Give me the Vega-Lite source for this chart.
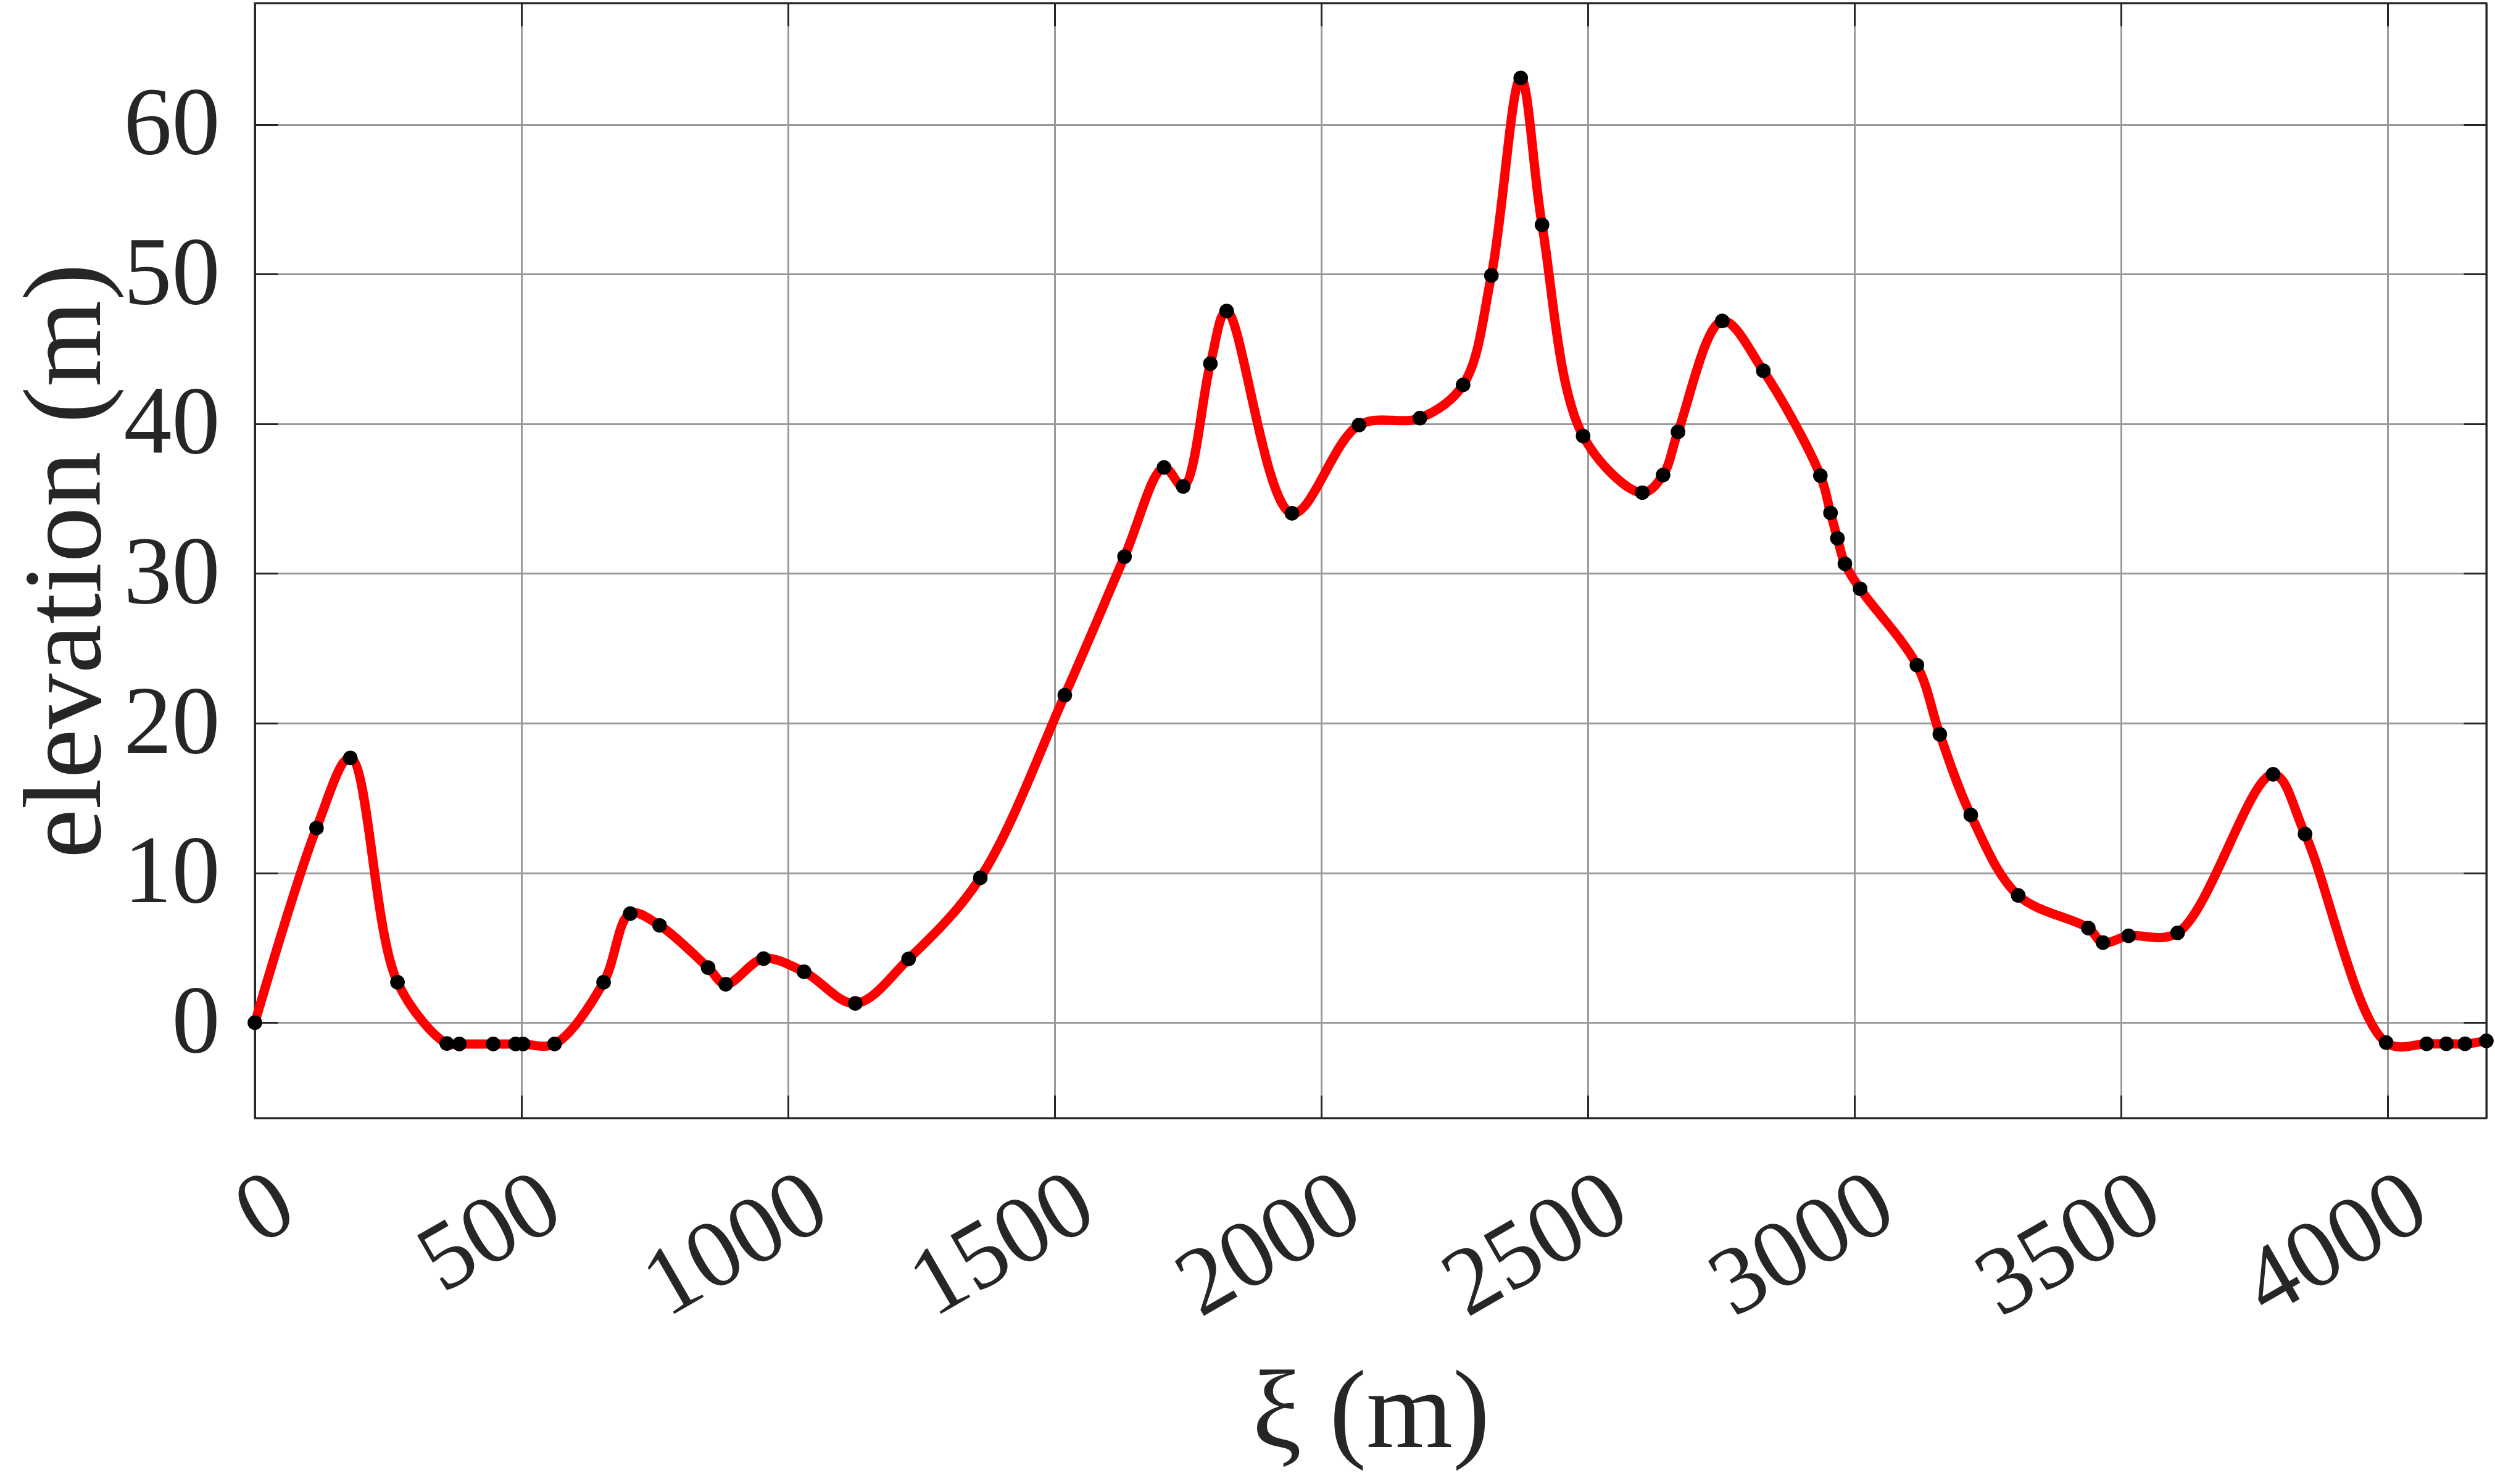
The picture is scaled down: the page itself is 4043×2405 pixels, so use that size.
{
  "$schema": "https://vega.github.io/schema/vega-lite/v6.json",
  "width": 3616,
  "height": 1807,
  "autosize": {"type": "none"},
  "padding": {"left": 413, "top": 5, "right": 14, "bottom": 593},
  "background": "white",
  "config": {
    "view": {"stroke": "#262626", "strokeWidth": 3},
    "font": "Liberation Serif"
  },
  "data": {
    "values": [
      {"xi": 0, "elev": 0},
      {"xi": 115.6, "elev": 13.0},
      {"xi": 179, "elev": 17.68},
      {"xi": 267.5, "elev": 2.7},
      {"xi": 360, "elev": -1.39},
      {"xi": 383.5, "elev": -1.42},
      {"xi": 447, "elev": -1.42},
      {"xi": 489, "elev": -1.42},
      {"xi": 503, "elev": -1.42},
      {"xi": 562, "elev": -1.42},
      {"xi": 654, "elev": 2.7},
      {"xi": 704, "elev": 7.29},
      {"xi": 759, "elev": 6.5},
      {"xi": 850, "elev": 3.68},
      {"xi": 883, "elev": 2.57},
      {"xi": 954, "elev": 4.28},
      {"xi": 1030, "elev": 3.4},
      {"xi": 1126, "elev": 1.29},
      {"xi": 1226, "elev": 4.26},
      {"xi": 1360.5, "elev": 9.68},
      {"xi": 1519, "elev": 21.88},
      {"xi": 1631, "elev": 31.13},
      {"xi": 1705, "elev": 37.08},
      {"xi": 1741, "elev": 35.82},
      {"xi": 1792, "elev": 44.02},
      {"xi": 1822.5, "elev": 47.53},
      {"xi": 1945, "elev": 34.02},
      {"xi": 2070.7, "elev": 39.92},
      {"xi": 2185, "elev": 40.38},
      {"xi": 2266, "elev": 42.6},
      {"xi": 2319, "elev": 49.91},
      {"xi": 2374, "elev": 63.1},
      {"xi": 2414, "elev": 53.29},
      {"xi": 2491, "elev": 39.18},
      {"xi": 2602, "elev": 35.4},
      {"xi": 2641, "elev": 36.58},
      {"xi": 2669, "elev": 39.46},
      {"xi": 2752, "elev": 46.87},
      {"xi": 2829, "elev": 43.54},
      {"xi": 2936, "elev": 36.54},
      {"xi": 2955, "elev": 34.05},
      {"xi": 2968, "elev": 32.35},
      {"xi": 2982, "elev": 30.65},
      {"xi": 3010.5, "elev": 28.98},
      {"xi": 3117, "elev": 23.88},
      {"xi": 3160, "elev": 19.26},
      {"xi": 3218, "elev": 13.88},
      {"xi": 3307, "elev": 8.5},
      {"xi": 3438.5, "elev": 6.32},
      {"xi": 3466, "elev": 5.35},
      {"xi": 3514, "elev": 5.8},
      {"xi": 3606, "elev": 6.0},
      {"xi": 3785, "elev": 16.59},
      {"xi": 3845, "elev": 12.6},
      {"xi": 3997, "elev": -1.33},
      {"xi": 4073, "elev": -1.41},
      {"xi": 4110, "elev": -1.41},
      {"xi": 4145, "elev": -1.41},
      {"xi": 4185, "elev": -1.21}
    ]
  },
  "layer": [
    {
      "mark": {"type": "line", "interpolate": "catmull-rom", "color": "#ff0000", "strokeWidth": 15},
      "encoding": {
        "x": {
          "field": "xi", "type": "quantitative",
          "scale": {"domain": [0, 4185], "nice": false, "zero": false},
          "axis": {
            "orient": "bottom",
            "values": [0, 500, 1000, 1500, 2000, 2500, 3000, 3500, 4000],
            "format": "d",
            "grid": true, "gridColor": "#9a9a9a", "gridWidth": 3,
            "tickSize": -37, "tickColor": "#262626", "tickWidth": 3,
            "domainColor": "#262626", "domainWidth": 3,
            "labelFont": "Liberation Serif", "labelFontSize": 156, "labelColor": "#262626",
            "labelAngle": -30, "labelAlign": "right", "labelBaseline": "top",
            "labelOffset": 12, "labelPadding": 98, "labelOverlap": false, "labelFlush": false, "labelBound": false,
            "labelLimit": 0,
            "title": "ξ (m)", "titleFont": "Liberation Serif", "titleFontSize": 180, "titleFontWeight": "normal",
            "titleColor": "#262626", "titlePadding": 190
          }
        },
        "y": {
          "field": "elev", "type": "quantitative",
          "scale": {"domain": [-6.37, 68.1], "nice": false, "zero": false},
          "axis": {
            "orient": "left",
            "values": [0, 10, 20, 30, 40, 50, 60],
            "format": "d",
            "grid": true, "gridColor": "#9a9a9a", "gridWidth": 3,
            "tickSize": -37, "tickColor": "#262626", "tickWidth": 3,
            "domainColor": "#262626", "domainWidth": 3,
            "labelFont": "Liberation Serif", "labelFontSize": 156, "labelColor": "#262626",
            "labelPadding": 94, "labelOverlap": false, "labelBound": false, "labelLimit": 0,
            "title": "elevation (m)", "titleFont": "Liberation Serif", "titleFontSize": 180, "titleFontWeight": "normal",
            "titleColor": "#262626", "titlePadding": 14
          }
        }
      }
    },
    {
      "mark": {"type": "point", "filled": true, "color": "#000000", "size": 560, "opacity": 1},
      "encoding": {
        "x": {
          "field": "xi", "type": "quantitative",
          "scale": {"domain": [0, 4185], "nice": false, "zero": false},
          "axis": {
            "orient": "top",
            "values": [0, 500, 1000, 1500, 2000, 2500, 3000, 3500, 4000],
            "grid": false, "labels": false, "title": null,
            "tickSize": -37, "tickColor": "#262626", "tickWidth": 3,
            "domainColor": "#262626", "domainWidth": 3
          }
        },
        "y": {
          "field": "elev", "type": "quantitative",
          "scale": {"domain": [-6.37, 68.1], "nice": false, "zero": false},
          "axis": {
            "orient": "right",
            "values": [0, 10, 20, 30, 40, 50, 60],
            "grid": false, "labels": false, "title": null,
            "tickSize": -37, "tickColor": "#262626", "tickWidth": 3,
            "domainColor": "#262626", "domainWidth": 3
          }
        }
      }
    }
  ],
  "resolve": {"axis": {"x": "independent", "y": "independent"}}
}
